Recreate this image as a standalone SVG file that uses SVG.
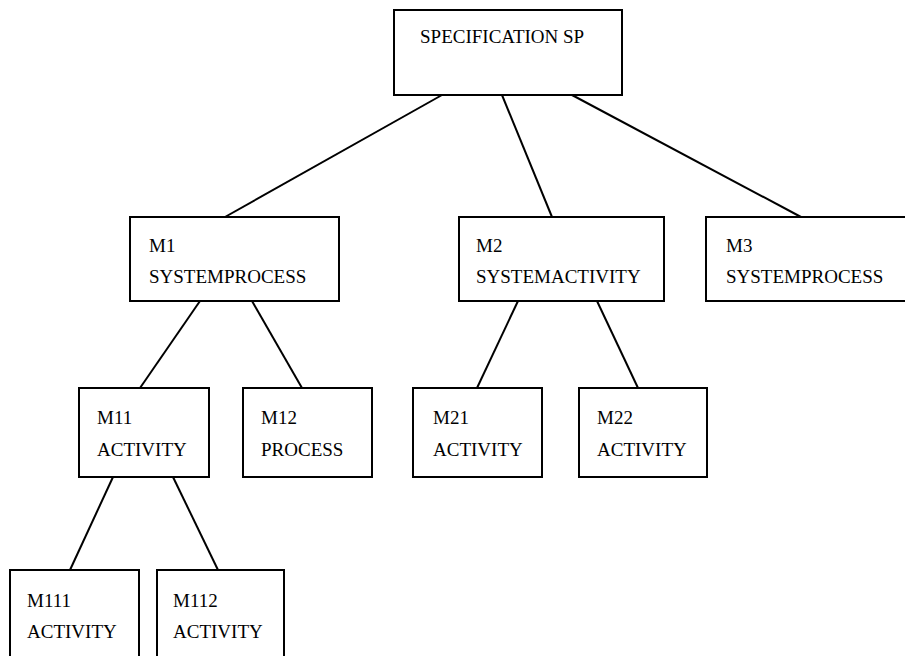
<svg xmlns="http://www.w3.org/2000/svg" width="905" height="656" viewBox="0 0 905 656">
<style>
rect.box { fill: #ffffff; stroke: #000000; stroke-width: 2; }
text { font-family: 'Liberation Serif', Tinos, 'Times New Roman', Times, 'DejaVu Serif', serif; font-size: 19px; fill: #000000; }
#connectors line { stroke: #000000; stroke-width: 2; }
</style>
<rect x="0" y="0" width="905" height="656" fill="#ffffff"/>
<g id="connectors">
<line x1="442" y1="95" x2="225" y2="217"/>
<line x1="502" y1="95" x2="552" y2="217"/>
<line x1="572" y1="95" x2="801" y2="217"/>
<line x1="200" y1="301" x2="140" y2="388"/>
<line x1="252" y1="301" x2="302" y2="388"/>
<line x1="518" y1="301" x2="477" y2="388"/>
<line x1="597" y1="301" x2="638" y2="388"/>
<line x1="113" y1="477" x2="70" y2="570"/>
<line x1="173" y1="477" x2="218" y2="570"/>
</g>
<g id="SP">
<rect class="box" x="394" y="10" width="228" height="85"/>
<text x="420" y="43">SPECIFICATION SP</text>
</g>
<g id="M1">
<rect class="box" x="130" y="217" width="209" height="84"/>
<text x="149" y="252">M1</text>
<text x="149" y="283">SYSTEMPROCESS</text>
</g>
<g id="M2">
<rect class="box" x="459" y="217" width="205" height="84"/>
<text x="476" y="252">M2</text>
<text x="476" y="283">SYSTEMACTIVITY</text>
</g>
<g id="M3">
<rect class="box" x="706" y="217" width="210" height="84"/>
<text x="726" y="252">M3</text>
<text x="726" y="283">SYSTEMPROCESS</text>
</g>
<g id="M11">
<rect class="box" x="79" y="388" width="130" height="89"/>
<text x="97" y="424">M11</text>
<text x="97" y="456">ACTIVITY</text>
</g>
<g id="M12">
<rect class="box" x="243" y="388" width="129" height="89"/>
<text x="261" y="424">M12</text>
<text x="261" y="456">PROCESS</text>
</g>
<g id="M21">
<rect class="box" x="413" y="388" width="129" height="89"/>
<text x="433" y="424">M21</text>
<text x="433" y="456">ACTIVITY</text>
</g>
<g id="M22">
<rect class="box" x="579" y="388" width="128" height="89"/>
<text x="597" y="424">M22</text>
<text x="597" y="456">ACTIVITY</text>
</g>
<g id="M111">
<rect class="box" x="10" y="570" width="129" height="100"/>
<text x="27" y="607">M111</text>
<text x="27" y="638">ACTIVITY</text>
</g>
<g id="M112">
<rect class="box" x="157" y="570" width="127" height="100"/>
<text x="173" y="607">M112</text>
<text x="173" y="638">ACTIVITY</text>
</g>
</svg>
